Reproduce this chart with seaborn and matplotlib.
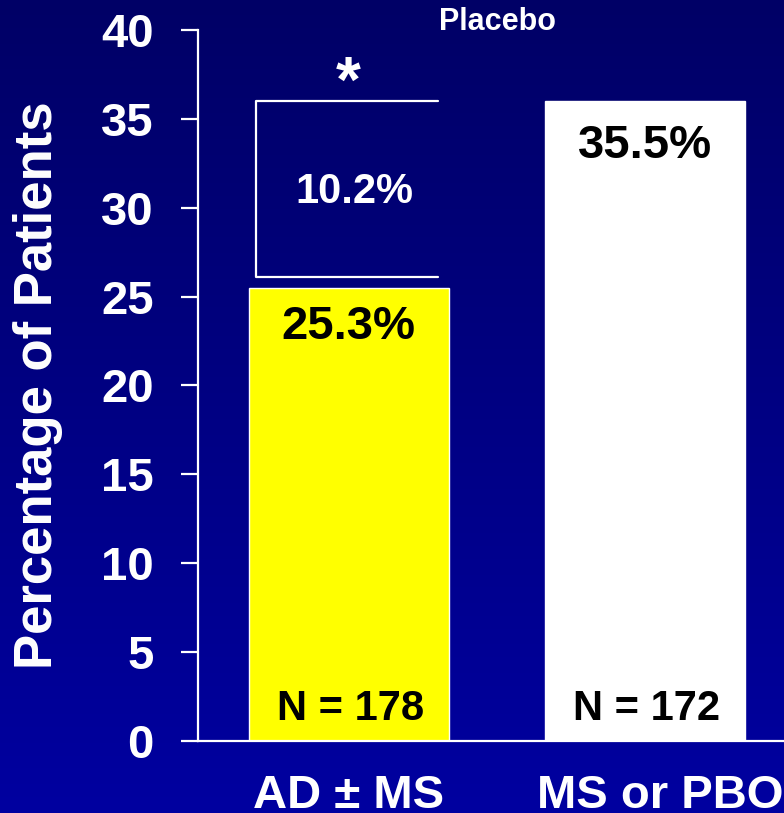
import numpy as np
import pandas as pd
import seaborn as sns
import matplotlib.pyplot as plt
from matplotlib.transforms import ScaledTranslation

groups = ['AD ± MS', 'MS or PBO']
bar_heights = [25.5, 36.0]
pct_labels = ['25.3%', '35.5%']
n_labels = ['N = 178', 'N = 172']
bar_colors = ['#FFFF00', '#FFFFFF']
diff_label = '10.2%'
bracket_low, bracket_high = 26.1, 36.0

sns.set_style('white')
plt.rcParams['font.family'] = ['Liberation Sans', 'DejaVu Sans']
plt.rcParams['font.weight'] = 'bold'

df = pd.DataFrame({'group': groups, 'pct': bar_heights})

fig = plt.figure(figsize=[7.84, 8.13], dpi=100)

# dark blue gradient background
bg = fig.add_axes([0, 0, 1, 1], zorder=0)
grad = np.linspace(0, 1, 256).reshape(-1, 1)
top = np.array([0, 0, 102]) / 255
bottom = np.array([0, 0, 160]) / 255
img = top + grad[..., None] * (bottom - top)
bg.imshow(img, aspect='auto', extent=[0, 1, 0, 1])
bg.axis('off')

ax = fig.add_axes([0.2526, 0.0886, 0.7474, 0.8745], zorder=1)
ax.set_facecolor('none')
sns.barplot(data=df, x='group', y='pct', hue='group', palette=bar_colors,
            width=0.675, saturation=1, legend=False, ax=ax)

ax.set_xlim(-0.508, 1.469)
ax.set_ylim(0, 40)
ax.set_yticks(range(0, 41, 5))
ax.set_xlabel('')
ax.set_ylabel('Percentage of Patients', color='white', fontsize=38,
              fontweight='bold', labelpad=27)
for side in ['top', 'right']:
  ax.spines[side].set_visible(False)
for side in ['left', 'bottom']:
  ax.spines[side].set_color('white')
  ax.spines[side].set_linewidth(1.6)
ax.tick_params(axis='y', colors='white', labelsize=34, length=12, width=1.6,
               pad=20, direction='out', left=True)
ax.tick_params(axis='x', colors='white', labelsize=34, length=0, pad=24)
for t in ax.get_xticklabels() + ax.get_yticklabels():
  t.set_fontweight('bold')
# second category label sits a bit right of its bar in the original
lab = ax.get_xticklabels()[1]
lab.set_transform(lab.get_transform() + ScaledTranslation(15 / 100, 0, fig.dpi_scale_trans))

# value labels inside bars
ax.text(0, 23.3, pct_labels[0], ha='center', va='center', fontsize=34, color='black')
ax.text(1, 33.5, pct_labels[1], ha='center', va='center', fontsize=34, color='black')
for i, n in enumerate(n_labels):
  ax.text(i + 0.005, 1.8, n, ha='center', va='center', fontsize=30, color='black')

# difference bracket
ax.plot([0.302, -0.312, -0.312, 0.302],
        [bracket_high, bracket_high, bracket_low, bracket_low],
        color='white', lw=1.6, clip_on=False)
ax.text(0.02, 30.9, diff_label, ha='center', va='center', fontsize=30, color='white')
ax.text(0.0, 36.9, '*', ha='center', va='center', fontsize=46, color='white')
ax.text(0.503, 40.45, 'Placebo', ha='center', va='center', fontsize=22,
        color='white', clip_on=False)

plt.savefig('out.png', dpi=100)
